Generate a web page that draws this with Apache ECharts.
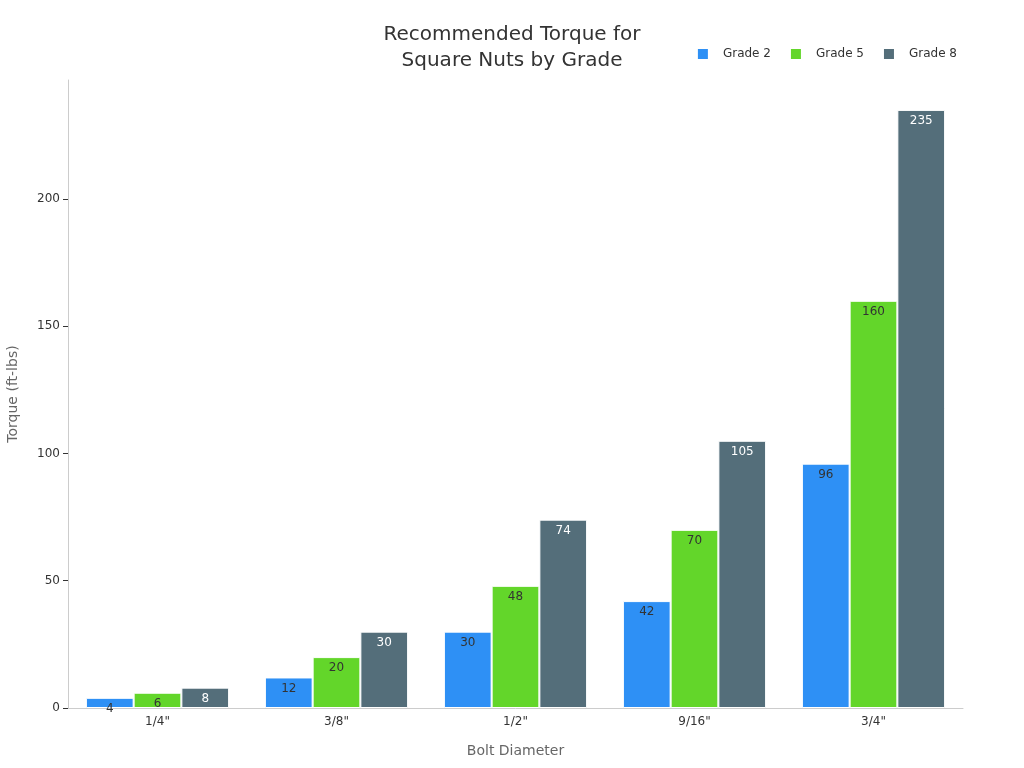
<!DOCTYPE html>
<html><head><meta charset="utf-8">
<script src="https://cdn.jsdelivr.net/npm/echarts@6/dist/echarts.min.js"></script>
<style>html,body{margin:0;padding:0;background:#fff}#c{width:1024px;height:768px}</style>
</head><body><div id="c"></div>
<script>
const categories = ['1/4"', '3/8"', '1/2"', '9/16"', '3/4"'];
const grade2 = [4, 12, 30, 42, 96];
const grade5 = [6, 20, 48, 70, 160];
const grade8 = [8, 30, 74, 105, 235];
const yTicks = [0, 50, 100, 150, 200];

const chart = echarts.init(document.getElementById('c'));
const font = 'DejaVu Sans';
function bar(name, data, color, labelColor) {
  return {
    name, type: 'bar', data,
    barGap: '0%', barCategoryGap: '20%',
    itemStyle: { color, borderColor: '#fff', borderWidth: 1 },
    label: { show: true, position: 'insideTop', color: labelColor, fontSize: 12, fontFamily: font, distance: 5 }
  };
}
chart.setOption({
  animation: false,
  textStyle: { fontFamily: font },
  title: {
    text: 'Recommended Torque for\nSquare Nuts by Grade',
    left: 'center', top: 17,
    textStyle: { fontSize: 20, fontWeight: 'normal', color: '#333', fontFamily: font, lineHeight: 26 }
  },
  legend: {
    right: 62, top: 42, itemWidth: 12, itemHeight: 12, itemGap: 18,
    icon: 'rect',
    textStyle: { fontSize: 12, color: '#333', fontFamily: font, padding: [0, 0, 0, 9] }
  },
  grid: { left: 68, right: 61, top: 80, bottom: 60, outerBoundsMode: 'none' },
  xAxis: {
    type: 'category', data: categories,
    name: 'Bolt Diameter', nameLocation: 'middle', nameGap: 36,
    nameTextStyle: { fontSize: 14, color: '#666', fontFamily: font },
    axisLine: { lineStyle: { color: '#ccc' } },
    axisTick: { alignWithLabel: true, lineStyle: { color: '#333' } },
    axisLabel: { fontSize: 12, color: '#333', margin: 8 }
  },
  yAxis: {
    type: 'value', min: 0, max: v => v.max * 1.05,
    name: 'Torque (ft-lbs)', nameLocation: 'middle', nameGap: 48,
    nameTextStyle: { fontSize: 14, color: '#666', fontFamily: font },
    axisLine: { show: true, lineStyle: { color: '#ccc' } },
    axisTick: { show: true, customValues: yTicks, lineStyle: { color: '#333' } },
    axisLabel: { customValues: yTicks, fontSize: 12, color: '#333' },
    splitLine: { show: false }
  },
  series: [
    bar('Grade 2', grade2, '#2E90F5', '#333'),
    bar('Grade 5', grade5, '#63D62A', '#333'),
    bar('Grade 8', grade8, '#546E7A', '#fff')
  ]
});
</script></body></html>
